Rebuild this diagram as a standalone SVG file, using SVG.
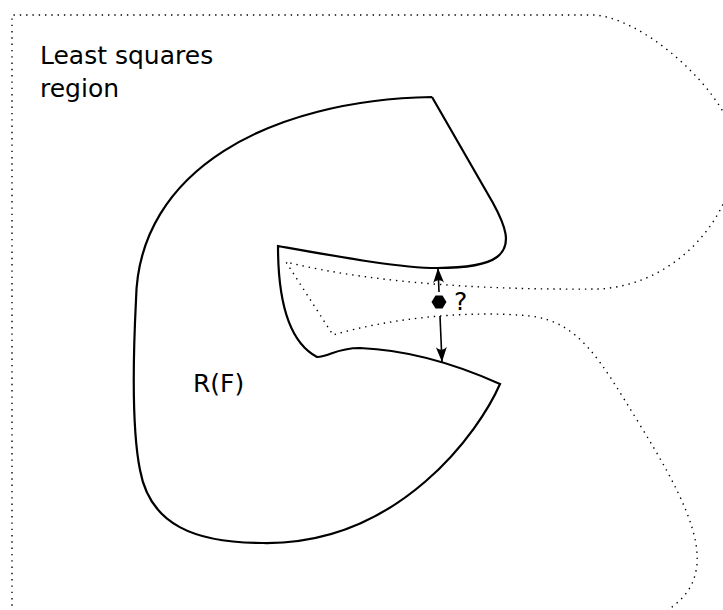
<svg xmlns="http://www.w3.org/2000/svg" width="723" height="610" viewBox="0 0 723 610">
  <style>
    .dotted { fill: none; stroke: #000; stroke-width: 1.4; stroke-dasharray: 1.4 4.9; }
    .solid { fill: none; stroke: #000; stroke-width: 2.2; stroke-linejoin: miter; }
    .lbl { font-family: "DejaVu Sans", "Liberation Sans", sans-serif; font-size: 25px; fill: #000; }
    .arrow { fill: none; stroke: #000; stroke-width: 1.6; }
  </style>
  <defs>
    <marker id="ah" markerUnits="userSpaceOnUse" viewBox="-16 -7 18 14" refX="0" refY="0" markerWidth="18" markerHeight="14" orient="auto" overflow="visible">
      <path d="M0,0 L-15,-5.5 C-11.5,-2 -11.5,2 -15,5.5 Z" fill="#000"/>
    </marker>
  </defs>
  <rect width="723" height="610" fill="#fff"/>

  <g id="ls-region">
    <path class="dotted" d="M12,612 L12,15 L596,15 C640,20 700,70 725,115 C740,145 740,180 725,200 C705,245 660,285 600,289 C500,290 380,285 286,262 L333,335 C390,318 470,310 530,316 C580,322 600,360 640,425 C680,490 705,540 695,575 C690,595 675,605 660,616"/>
    <text class="lbl" x="40" y="64">Least squares</text>
    <text class="lbl" x="40" y="97">region</text>
  </g>

  <g id="rf-region">
    <path class="solid" d="M432,97 L493,203 C505,225 513,245 497,257 C485,266 460,268 437,268 C400,268 340,257 278,246 C278,290 285,340 317,357 C330,357 335,348 360,348 C410,350 460,366 500,384 C480,430 400,545 263,543 C195,543 150,525 140,470 C132,430 133,360 136,300 C138,170 270,100 432,97"/>
    <text class="lbl" x="193" y="392">R(F)</text>
  </g>

  <g id="point">
    <polygon points="431.5,302 435.5,295.5 442.5,295.5 446.5,302 442.5,308.5 435.5,308.5" fill="#000"/>
    <text class="lbl" x="454" y="310">?</text>
  </g>

  <g id="connectors">
    <line class="arrow" x1="439" y1="292" x2="438" y2="268" marker-end="url(#ah)"/>
    <line class="arrow" x1="440" y1="316" x2="442" y2="362" marker-end="url(#ah)"/>
  </g>
</svg>
